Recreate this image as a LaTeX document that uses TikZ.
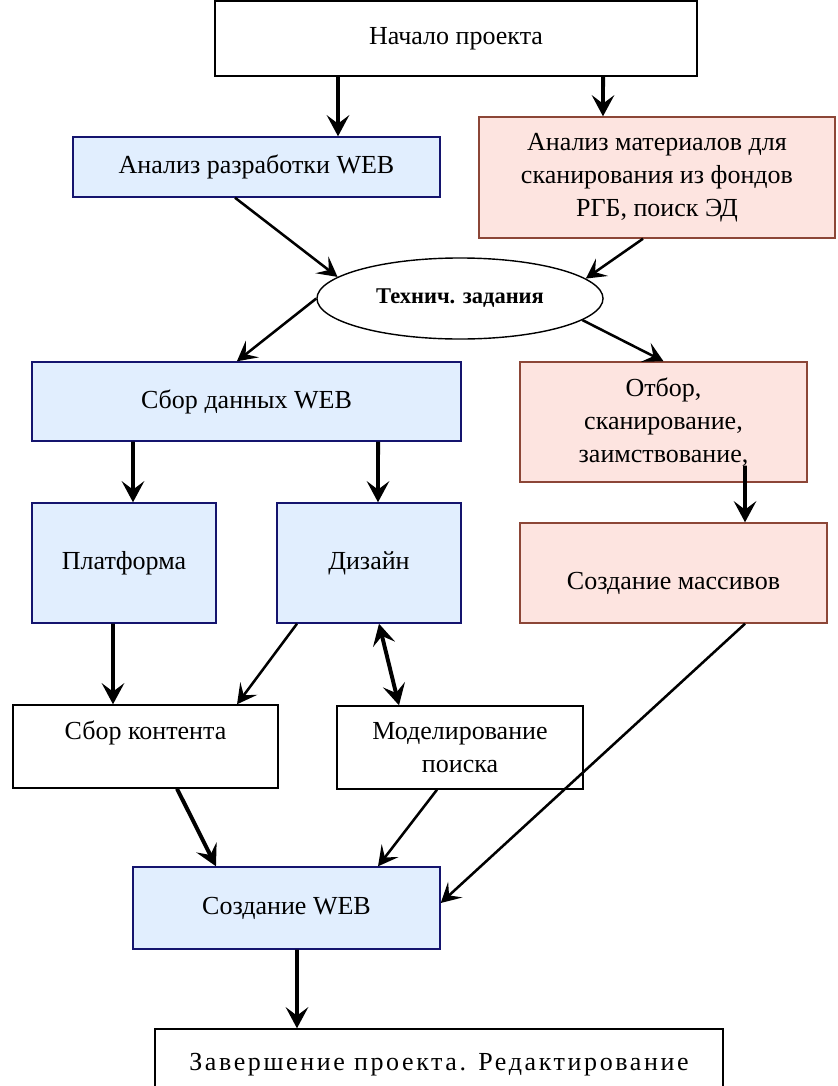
\documentclass[tikz,border=0pt]{standalone}
\usepackage{fontspec}
\setmainfont{Liberation Serif}
\usepackage{tikz}
\usetikzlibrary{arrows.meta,shapes.geometric}
\definecolor{webfill}{RGB}{225,238,254}
\definecolor{webline}{RGB}{20,20,110}
\definecolor{scanfill}{RGB}{253,228,224}
\definecolor{scanline}{RGB}{140,70,55}

\begin{document}
\begin{tikzpicture}[x=0.025cm,y=-0.025cm,
  box/.style={draw, line width=1pt, fill=white, inner sep=0pt, align=center,
    font=\fontsize{18.5}{23.5}\selectfont},
  webbox/.style={box, draw=webline, fill=webfill},
  scanbox/.style={box, draw=scanline, fill=scanfill},
  fat/.style={-{Stealth[length=15pt,width=16pt,inset=6pt]}, line width=2.8pt},
  slim/.style={-{Stealth[length=14pt,width=15pt,inset=6pt]}, line width=1.8pt}]
\clip (0,0) rectangle (837,1086);

\node [box, minimum width=12.05cm, minimum height=1.875cm] (start) at (456,38.5) {Начало проекта};
\node [webbox, minimum width=9.175cm, minimum height=1.5cm] (webanal) at (256.5,167) {Анализ разработки WEB};
\node [scanbox, minimum width=8.9cm, minimum height=3.025cm] (matanal) at (657,177.5)
  {Анализ материалов для\\сканирования из фондов\\РГБ, поиск ЭД};
\node [ellipse, draw, line width=1pt, inner sep=0pt, minimum width=7.15cm, minimum height=2.025cm,
  font=\fontsize{16}{19}\selectfont\bfseries] (tz) at (460,298.5) {Технич. задания};
\node [webbox, minimum width=10.725cm, minimum height=1.975cm] (webdata) at (246.5,401.5) {Сбор данных WEB};
\node [scanbox, minimum width=7.175cm, minimum height=3cm] (select) at (663.5,422)
  {Отбор,\\сканирование,\\заимствование,};
\node [webbox, minimum width=4.6cm, minimum height=3cm] (platform) at (124,563) {Платформа};
\node [webbox, minimum width=4.6cm, minimum height=3cm] (design) at (369,563) {Дизайн};
\node [scanbox, minimum width=7.675cm, minimum height=2.5cm, text height=27pt, text depth=4pt]
  (arrays) at (673.5,573) {Создание массивов};
\node [box, minimum width=6.625cm, minimum height=2.075cm] (content) at (145.5,746.5) {Сбор контента\\\mbox{}};
\node [box, minimum width=6.15cm, minimum height=2.075cm] (search) at (460,747.5) {Моделирование\\поиска};
\node [webbox, minimum width=7.675cm, minimum height=2.05cm] (webmake) at (286.5,908) {Создание WEB};
\node [box, minimum width=14.2cm, minimum height=1.775cm] (finish) at (439,1064.5)
  {\addfontfeatures{LetterSpace=10}Завершение проекта. Редактирование};

\draw [fat] ([xshift=-2.95cm]start.south) -- ([xshift=2.0375cm]webanal.north);
\draw [fat] ([xshift=3.675cm]start.south) -- ([xshift=-1.35cm]matanal.north);
\draw [slim] ([xshift=-0.5375cm]webanal.south) -- (tz.170.5);
\draw [slim] ([xshift=-0.35cm]matanal.south) -- (tz.9.5);
\draw [slim] (tz.west) -- ([xshift=-0.24cm]webdata.north);
\draw [slim] (tz.-10) -- (select.north);
\draw [fat] ([xshift=-2.8375cm]webdata.south) -- ([xshift=0.225cm]platform.north);
\draw [fat] ([xshift=3.2875cm]webdata.south) -- ([xshift=0.225cm]design.north);
\draw [fat] ([xshift=2.0375cm,yshift=0.425cm]select.south) -- ([xshift=1.7875cm]arrays.north);
\draw [fat] ([xshift=-0.275cm]platform.south) -- ([xshift=-0.8125cm]content.north);
\draw [slim] ([xshift=-1.8cm]design.south) -- ([xshift=2.2875cm]content.north);
\draw [fat, {Stealth[length=15pt,width=16pt,inset=6pt]}-{Stealth[length=15pt,width=16pt,inset=6pt]}]
  ([xshift=0.25cm]design.south) -- ([xshift=-1.525cm]search.north);
\draw [fat] ([xshift=0.7875cm]content.south) -- ([xshift=-1.7625cm]webmake.north);
\draw [slim] ([xshift=-0.575cm]search.south) -- ([xshift=2.2875cm]webmake.north);
\draw [slim] ([xshift=1.7875cm]arrays.south) -- ([yshift=0.125cm]webmake.east);
\draw [fat] ([xshift=0.2625cm]webmake.south) -- ([xshift=-3.55cm]finish.north);

\end{tikzpicture}
\end{document}
